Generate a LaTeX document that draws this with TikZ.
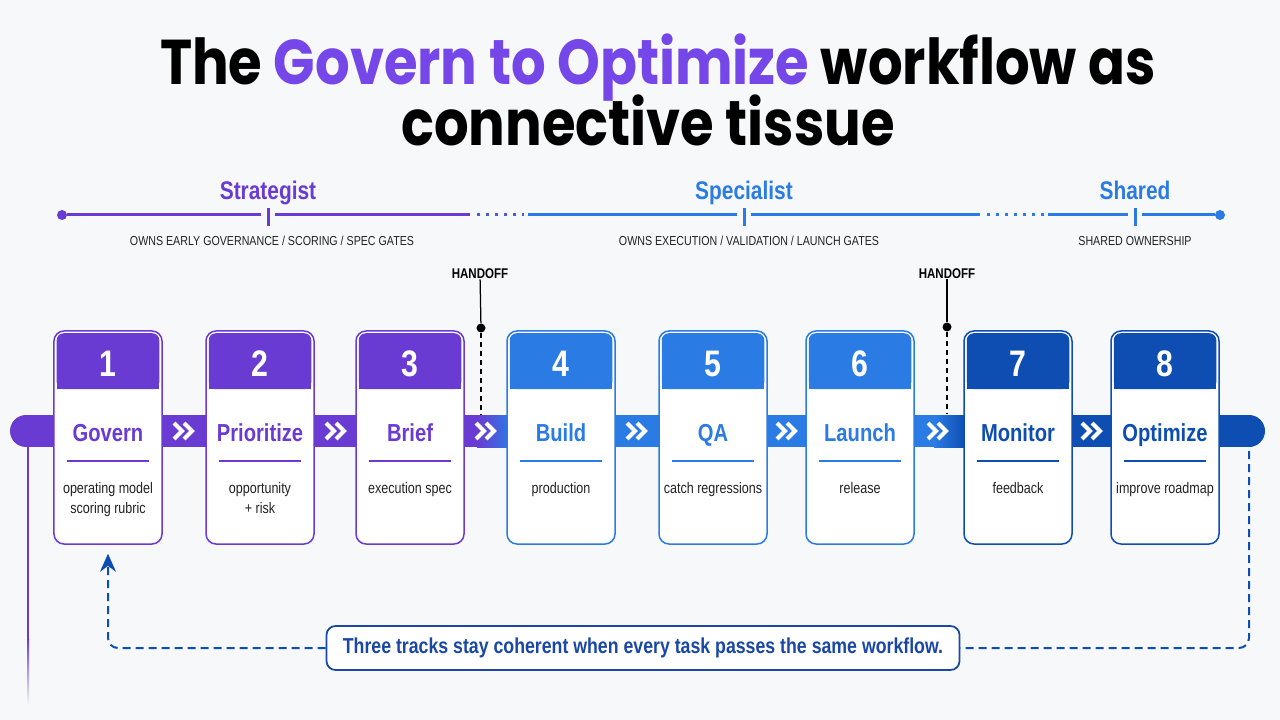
\documentclass[tikz,border=0pt]{standalone}
\usepackage{fontspec}
\setmainfont{Liberation Sans}[FakeStretch=0.82]
\newfontfamily\titlefont{Poppins}[FakeStretch=0.86]
\usetikzlibrary{arrows.meta,positioning,calc}
\definecolor{bg}{HTML}{F7F8FA}
\definecolor{strat}{HTML}{6A3BD2}
\definecolor{spec}{HTML}{2A7BE4}
\definecolor{shared}{HTML}{0E4DB2}
\definecolor{titlep}{HTML}{7546E8}
\definecolor{ink}{HTML}{222222}
\definecolor{notec}{HTML}{1A47A6}
\tikzset{
  title/.style={anchor=base,inner sep=0,font=\titlefont\bfseries\fontsize{36}{40}\selectfont},
  role/.style={anchor=base,inner sep=0,font=\bfseries\fontsize{14.5}{16}\selectfont},
  sub/.style={anchor=base,inner sep=0,text=ink,font=\fontsize{7.4}{9}\selectfont},
  trk/.style={line width=0.6mm},
  dotted trk/.style={trk,dash pattern=on 0.6mm off 1.2mm},
  dot/.style={circle,inner sep=0,minimum size=2mm},
  hand/.style={anchor=base,inner sep=0,font=\bfseries\fontsize{8}{9}\selectfont},
  hdot/.style={circle,fill=black,inner sep=0,minimum size=1.8mm},
  card/.style={fill=white,line width=0.3mm,rounded corners=2mm,minimum width=21.6mm,minimum height=42.6mm},
  num/.style={anchor=base,inner sep=0,text=white,font=\bfseries\fontsize{21}{24}\selectfont},
  sname/.style={anchor=base,inner sep=0,font=\bfseries\fontsize{14}{16}\selectfont},
  sep/.style={line width=0.3mm},
  desc/.style={anchor=north,inner sep=0,align=center,text=ink,font=\fontsize{8.7}{11.4}\selectfont},
  chev/.style={draw=white,line width=0.8mm,miter limit=4},
  note/.style={draw=notec,fill=white,line width=0.35mm,rounded corners=1.8mm,minimum width=126.6mm,minimum height=8.8mm,text=notec,font=\bfseries\fontsize{12.3}{14}\selectfont},
  loopar/.style={draw=shared,line width=0.4mm,dash pattern=on 1.6mm off 1mm,rounded corners=2mm},
}
% one card of the workflow: id, x, colour, number, name, note
\newcommand{\stage}[6]{%
  \node[card,draw=#3] (c#1) at (#2,437.5) {};
  \fill[#3,rounded corners=1.4mm] ($(c#1.north west)+(3.5,3)$) rectangle ($(c#1.north east)+(-3.5,59)$);
  \fill[#3] ($(c#1.north west)+(3.5,40)$) rectangle ($(c#1.north east)+(-3.5,59)$);
  \node[num] (n#1) at (#2,376) {#4};
  \node[sname,text=#3] (s#1) at (#2,441) {#5};
  \draw[sep,#3] ($(s#1.base)+(-41,20)$) -- ($(s#1.base)+(41,20)$);
  \node[desc] (d#1) at (#2,482) {#6};
}
\newcommand{\chev}[1]{\draw[chev] (#1-10,423) -- (#1-2,431) -- (#1-10,439) (#1,423) -- (#1+8,431) -- (#1,439);}

\begin{document}
\begin{tikzpicture}[x=0.2mm,y=-0.2mm]
\fill[bg] (0,0) rectangle (1280,720);
\useasboundingbox (0,0) rectangle (1280,720);

% title
\node[title] (t1) at (658,85) {The {\color{titlep}Govern to Optimize} workflow as};
\node[title] (t2) at (648,146) {connective tissue};

% ownership track
\node[dot,fill=strat] (tl) at (62,215) {};
\node[dot,fill=spec] (tr) at (1220,215) {};
\node[role,text=strat] (strat) at (268,200) {Strategist};
\node[role,text=spec] (spec) at (744,200) {Specialist};
\node[role,text=spec] (shr) at (1135,200) {Shared};
\draw[trk,strat] ($(strat.base)+(0,8)$) -- ($(strat.base)+(0,26)$);
\draw[trk,spec] ($(spec.base)+(0,8)$) -- ($(spec.base)+(0,26)$);
\draw[trk,spec] ($(shr.base)+(0,8)$) -- ($(shr.base)+(0,26)$);
\draw[trk,strat] (tl) -- (261,215) (275,215) -- (470,215);
\draw[dotted trk,strat!55!spec] (477,215) -- (524,215);
\draw[trk,spec] (528,215) -- (737,215) (751,215) -- (980,215);
\draw[dotted trk,spec] (987,215) -- (1044,215);
\draw[trk,spec] (1048,215) -- (1128,215) (1142,215) -- (tr);
\node[sub] (strats) at (272,246) {OWNS EARLY GOVERNANCE / SCORING / SPEC GATES};
\node[sub] (specs) at (749,246) {OWNS EXECUTION / VALIDATION / LAUNCH GATES};
\node[sub] (shrs) at (1135,246) {SHARED OWNERSHIP};

% band behind the cards
\fill[strat] (26,431) circle[radius=16];
\fill[strat] (26,415) rectangle (478,447);
\shade[left color=strat,right color=spec] (477,415) rectangle (512,447);
\fill[spec] (511,415) rectangle (935,447);
\shade[left color=spec,right color=shared] (934,415) rectangle (966,447);
\fill[shared] (965,415) rectangle (1249,447);
\fill[shared] (1249,431) circle[radius=16];
\fill[strat] (27,447) rectangle (29,640);
\shade[top color=strat,bottom color=bg] (27,639) rectangle (29,705);

% cards
\stage{1}{108}{strat}{1}{Govern}{operating model\\scoring rubric}
\stage{2}{260}{strat}{2}{Prioritize}{opportunity\\+ risk}
\stage{3}{410}{strat}{3}{Brief}{execution spec}
\stage{4}{561}{spec}{4}{Build}{production}
\stage{5}{713}{spec}{5}{QA}{catch regressions}
\stage{6}{860}{spec}{6}{Launch}{release}
\stage{7}{1018}{shared}{7}{Monitor}{feedback}
\stage{8}{1165}{shared}{8}{Optimize}{improve roadmap}

\chev{184} \chev{336} \chev{486} \chev{637} \chev{787} \chev{938} \chev{1092}

% handoffs
\node[hand] (h1) at (480,279) {HANDOFF};
\node[hdot] (h1d) at (481,328) {};
\coordinate (h1e) at (481,414);
\draw[line width=0.25mm] (h1) -- (h1d);
\draw[line width=0.25mm,dash pattern=on 1mm off 0.8mm] (h1d) -- (h1e);
\node[hand] (h2) at (947,279) {HANDOFF};
\node[hdot] (h2d) at (947,327) {};
\coordinate (h2e) at (947,414);
\draw[line width=0.25mm] (h2) -- (h2d);
\draw[line width=0.25mm,dash pattern=on 1mm off 0.8mm] (h2d) -- (h2e);

% loop back
\node[note] (note) at (643,648) {Three tracks stay coherent when every task passes the same workflow.};
\coordinate (rcap) at (1249,451);
\draw[loopar,-{Stealth[length=3.6mm,width=3.2mm]}] (note.west) -| ($(c1.south)+(0,9)$);
\draw[loopar] (rcap) |- (note.east);
\end{tikzpicture}
\end{document}
